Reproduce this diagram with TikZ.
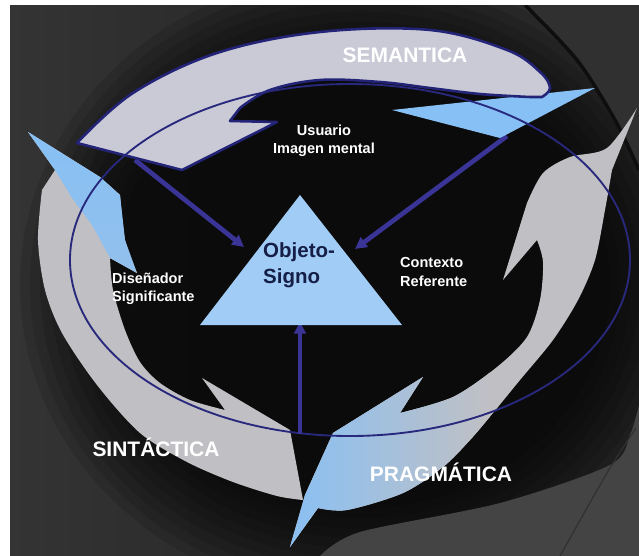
\documentclass[tikz,border=0pt]{standalone}
\usepackage{fontspec}
\setmainfont{Liberation Sans}
\usetikzlibrary{arrows.meta}
\definecolor{lb}{RGB}{135,192,245}
\definecolor{tricol}{RGB}{160,204,245}
\definecolor{gband}{RGB}{192,192,196}
\definecolor{topgray}{RGB}{202,202,214}
\definecolor{outl}{RGB}{35,35,120}
\definecolor{arrcol}{RGB}{58,52,150}
\definecolor{ellcol}{RGB}{40,40,125}
\definecolor{navy}{RGB}{20,30,70}
\definecolor{peach}{RGB}{205,192,188}
\definecolor{bgbase}{RGB}{44,44,44}
\definecolor{bgL}{RGB}{52,52,52}
\definecolor{bgTR}{RGB}{48,48,48}
\definecolor{bgBR}{RGB}{68,68,68}
\definecolor{bgline}{RGB}{48,48,48}
\definecolor{stripe}{RGB}{14,14,14}
\newcommand\PragPath{(290,547) -- (318,508) -- plot[smooth] coordinates {(318,508) (347,510) (403,493) (443,467) (470,440) (493,413) (520,380) (553,340) (578,300) (595,260) (605,210) (612,170)} -- (637,108) -- plot[smooth] coordinates {(637,108) (607,148) (570,157) (543,173) (527,203)} -- (503,280) -- (537,240) -- plot[smooth] coordinates {(537,240) (543,262) (540,300) (527,337) (497,367) (453,397) (400,413)} -- (423,377) -- (333,433) -- (305,495) -- cycle}
\begin{document}
\begin{tikzpicture}[x=0.03cm,y=-0.03cm,
  biglabel/.style={text=white, font=\fontsize{17.9}{20}\selectfont\bfseries, inner sep=0pt},
  smalllabel/.style={text=white, font=\fontsize{12.4}{15.4}\selectfont\bfseries, inner sep=0pt},
  objlabel/.style={text=navy, font=\fontsize{17.5}{22}\selectfont\bfseries, inner sep=0pt, align=left},
  semband/.style={fill=topgray, draw=outl, line width=2.2pt, line join=round},
  ptr/.style={draw=arrcol, line width=4pt, -{Triangle[length=10pt,width=10pt]}},
  ellline/.style={draw=ellcol, line width=1.6pt}]
\useasboundingbox (0,0) rectangle (639,556);
% background
\fill[white] (0,0) rectangle (639,556);
\begin{scope}
\clip (10,5) rectangle (639,556);
\fill[bgbase] (10,5) rectangle (639,556);
\shade[left color=bgL, right color=bgbase] (10,5) rectangle (200,556);
\foreach \k in {0,...,9}
  \fill[black, opacity=0.11] (360,285) ellipse [x radius={(10.2-0.3*\k)*1cm}, y radius={(9.4-0.3*\k)*1cm}];
\fill[bgTR] plot[smooth] coordinates {(525,5) (577,60) (615,120) (639,170)} -- (639,5) -- cycle;
\draw[stripe, line width=3pt] plot[smooth] coordinates {(525,5) (577,60) (615,120) (639,170)};
\fill[bgBR] plot[smooth] coordinates {(320,556) (360,532) (500,503) (610,465) (630,435) (639,405)} -- (639,556) -- cycle;
\draw[bgline, line width=1pt] plot[smooth] coordinates {(636,428) (607,473) (560,556)};
\end{scope}
% named points
\coordinate (tA) at (300,195);
\coordinate (tL) at (200,325);
\coordinate (tR) at (402,325);
\coordinate (s1) at (135,160);
\coordinate (e1) at (244,247);
\coordinate (s2) at (507,136);
\coordinate (e2) at (355,249);
\coordinate (s3) at (300,434);
\coordinate (e3) at (300,322);
% pointers under the bands
\draw[ptr] (s1) -- (e1);
\draw[ptr] (s2) -- (e2);
% top-right light blue piece
\fill[lb] (392,110) -- (595,88) -- (500,138) -- cycle;
% SEMANTICA band
\path[semband] plot[smooth, tension=0.6] coordinates {(77,143) (133,93) (217,53) (320,32) (430,30) (507,50) (540,72) (550,88) (542,97)} -- plot[smooth, tension=0.6] coordinates {(530,97) (480,94) (430,88) (380,82) (320,80) (270,90) (240,108)} -- (230,121) -- (277,122) -- (182,170) -- cycle;
% SINTACTICA band
\fill[gband] (28,132) -- (55,170) -- plot[smooth] coordinates {(42,190) (38,240) (45,290) (62,333) (97,385) (140,433) (187,462) (233,482) (277,496) (303,500)} -- (290,430) -- (202,378) -- (225,410) -- plot[smooth] coordinates {(225,410) (190,400) (160,383) (140,362) (125,330) (113,290) (110,258)} -- (137,273) -- plot[smooth] coordinates {(137,273) (125,240) (120,195)} -- (100,177) -- cycle;
\shade[top color=lb, bottom color=lb!80!gband] (28,132) -- (100,177) -- (120,195) -- (125,240) -- (137,273) -- (110,258) -- (92,225) -- (72,198) -- (55,170) -- cycle;
% PRAGMATICA band
\begin{scope}
\clip \PragPath;
\fill[gband] (280,100) rectangle (639,556);
\shade[left color=lb, middle color=peach, right color=gband] (280,360) rectangle (490,556);
\end{scope}
% ellipse line
\draw[ellline] (350,260) ellipse [x radius=8.4cm, y radius=5.28cm];
% bottom pointer
\draw[ptr] (s3) -- (e3);
% triangle
\fill[tricol] (tA) -- (tR) -- (tL) -- cycle;
% labels
\node[objlabel, anchor=west] (obj) at (263,265) {Objeto-\\Signo};
\node[biglabel] (sem) at (405,55) {SEMANTICA};
\node[biglabel] (sin) at (156,447) {SINTÁCTICA};
\node[biglabel] (pra) at (441,472) {PRAGMÁTICA};
\node[smalllabel, align=center] (usu) at (324,141) {Usuario\\Imagen mental};
\node[smalllabel, align=left, anchor=west] (dis) at (112,289) {Diseñador\\Significante};
\node[smalllabel, align=left, anchor=west] (con) at (400,272) {Contexto\\Referente};
\end{tikzpicture}
\end{document}
